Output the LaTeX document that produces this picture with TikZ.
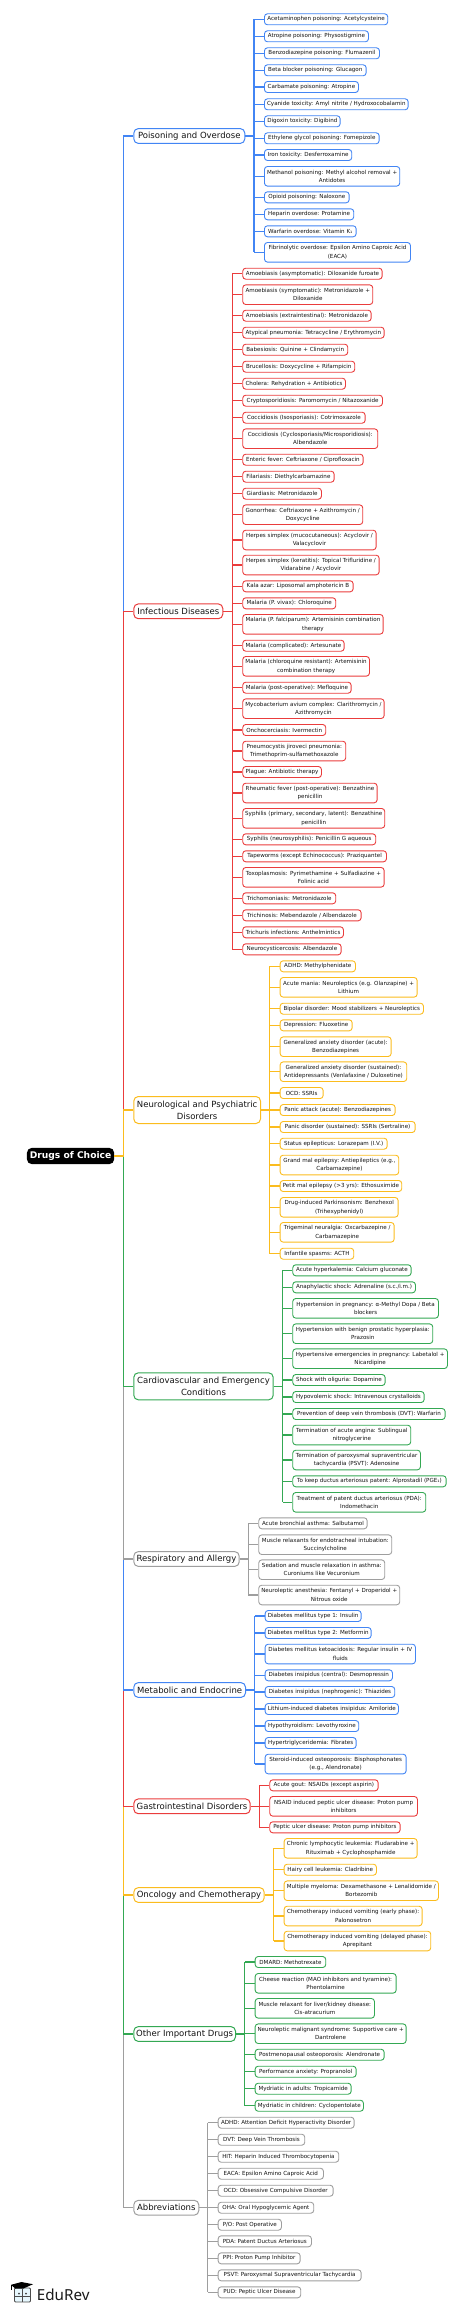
\documentclass[tikz,border=0pt]{standalone}
\usepackage{fontspec}
\setmainfont{DejaVu Sans}
\newfontfamily\logofont{Noto Sans}
\definecolor{cblue}{HTML}{4285F4}
\definecolor{cred}{HTML}{EA3C3C}
\definecolor{cyel}{HTML}{FBBC1E}
\definecolor{cgrn}{HTML}{34A853}
\definecolor{cgry}{HTML}{9E9E9E}
\definecolor{ink}{HTML}{141414}
\tikzset{
  leafbox/.style={draw=#1,line width=0.9pt,rounded corners=3pt,fill=white,inner sep=0pt,anchor=west,
    text=ink,align=center,font=\fontsize{5.57}{8.35}\selectfont},
  onel/.style={minimum height=11pt},
  twol/.style={minimum height=19.6pt},
  catbox/.style={draw=#1,line width=1pt,rounded corners=4.5pt,fill=white,inner sep=0pt,anchor=west,
    text=ink,align=center,minimum height=14.8pt,font=\fontsize{8.5}{12}\selectfont},
  cattwo/.style={minimum height=27pt},
  link/.style={draw=#1,line width=1.2pt},
}
% \lfone{name}{right}{cy}{text}: one line, \lftwo: two lines; \curL, \curC and \curB hold left edge, colour and branch name
\newcommand{\lfone}[4]{\node[leafbox=\curC,onel,minimum width={(#2-\curL)*1pt}] (#1) at (\curL,#3) {#4};
  \draw[link=\curC] (#1.west) -- (#1.west -| \curB);}
\newcommand{\lftwo}[4]{\node[leafbox=\curC,twol,minimum width={(#2-\curL)*1pt}] (#1) at (\curL,#3) {#4};
  \draw[link=\curC] (#1.west) -- (#1.west -| \curB);}
% \catgroup[extra]{cat}{colour}{cat right}{cy}{text}{branch x}{leaf left}
\newcommand{\catgroup}[8][]{\def\curC{#3}\def\curL{#8}\def\curB{#2br}
  \coordinate (#2br) at (#7,0);
  \node[catbox=#3,#1,minimum width={(#4-133.3)*1pt}] (#2) at (133.3,#5) {#6};
  \draw[link=#3] (root.east) -- (root.east -| trunk) -- (#2.west -| trunk) -- (#2.west);
  \draw[link=#3] (#2.east) -- (#2.east -| #2br);}
\newcommand{\spine}[3]{\draw[link=\curC] (#1br |- #2.west) -- (#1br |- #3.west);}
\begin{document}
\begin{tikzpicture}[x=1pt,y=-1pt]
\useasboundingbox (0,0) rectangle (474,2312);
\coordinate (trunk) at (123.3,0);
\node[fill=black,rounded corners=5pt,inner sep=0pt,minimum width=87.3pt,minimum height=16.3pt,anchor=west,
  text=white,font=\fontsize{9.15}{10}\selectfont\bfseries] (root) at (26.7,1156) {Drugs of Choice};

\catgroup{abb}{cgry}{198.3}{2207.7}{Abbreviations}{207.7}{217.7}
\lfone{b1}{353.7}{2122.7}{ADHD: Attention Deficit Hyperactivity Disorder}
\lfone{b2}{304.3}{2139.7}{DVT: Deep Vein Thrombosis}
\lfone{b3}{338.3}{2156.7}{HIT: Heparin Induced Thrombocytopenia}
\lfone{b4}{323}{2173.7}{EACA: Epsilon Amino Caproic Acid}
\lfone{b5}{332.7}{2190.7}{OCD: Obsessive Compulsive Disorder}
\lfone{b6}{313.3}{2207.7}{OHA: Oral Hypoglycemic Agent}
\lfone{b7}{281}{2224.7}{P/O: Post Operative}
\lfone{b8}{311}{2241.3}{PDA: Patent Ductus Arteriosus}
\lfone{b9}{299.7}{2258.3}{PPI: Proton Pump Inhibitor}
\lfone{b10}{360.7}{2275.3}{PSVT: Paroxysmal Supraventricular Tachycardia}
\lfone{b11}{300.3}{2292.3}{PUD: Peptic Ulcer Disease}
\spine{abb}{b1}{b11}

\catgroup{oth}{cgrn}{235}{2034}{Other Important Drugs}{244.7}{254.7}
\lfone{x1}{325.3}{1962}{DMARD: Methotrexate}
\lftwo{x2}{395.7}{1983.3}{Cheese reaction (MAO inhibitors and tyramine):\\Phentolamine}
\lftwo{x3}{374}{2008.3}{Muscle relaxant for liver/kidney disease:\\Cis-atracurium}
\lftwo{x4}{405.7}{2033.7}{Neuroleptic malignant syndrome: Supportive care +\\Dantrolene}
\lfone{x5}{383.7}{2054.7}{Postmenopausal osteoporosis: Alendronate}
\lfone{x6}{355.7}{2071.7}{Performance anxiety: Propranolol}
\lfone{x7}{350.7}{2088.7}{Mydriatic in adults: Tropicamide}
\lfone{x8}{363}{2105.7}{Mydriatic in children: Cyclopentolate}
\spine{oth}{x1}{x8}

\catgroup{onc}{cyel}{263.7}{1895}{Oncology and Chemotherapy}{273.7}{283.7}
\lftwo{o1}{416.7}{1848.3}{Chronic lymphocytic leukemia: Fludarabine +\\Rituximab + Cyclophosphamide}
\lfone{o2}{376}{1869.7}{Hairy cell leukemia: Cladribine}
\lftwo{o3}{438}{1890.7}{Multiple myeloma: Dexamethasone + Lenalidomide /\\Bortezomib}
\lftwo{o4}{421.7}{1916}{Chemotherapy induced vomiting (early phase):\\Palonosetron}
\lftwo{o5}{430.3}{1941}{Chemotherapy induced vomiting (delayed phase):\\Aprepitant}
\spine{onc}{o1}{o5}

\catgroup{gas}{cred}{249.7}{1806.3}{Gastrointestinal Disorders}{259.3}{269.3}
\lfone{g1}{377.7}{1785.3}{Acute gout: NSAIDs (except aspirin)}
\lftwo{g2}{417}{1806.3}{NSAID induced peptic ulcer disease: Proton pump\\inhibitors}
\lfone{g3}{399.7}{1827.3}{Peptic ulcer disease: Proton pump inhibitors}
\spine{gas}{g1}{g3}

\catgroup{met}{cblue}{245}{1690}{Metabolic and Endocrine}{254.7}{264.7}
\lfone{m1}{360.7}{1616}{Diabetes mellitus type 1: Insulin}
\lfone{m2}{370.7}{1633}{Diabetes mellitus type 2: Metformin}
\lftwo{m3}{415}{1654}{Diabetes mellitus ketoacidosis: Regular insulin + IV\\fluids}
\lfone{m4}{392}{1675.3}{Diabetes insipidus (central): Desmopressin}
\lfone{m5}{394.3}{1692}{Diabetes insipidus (nephrogenic): Thiazides}
\lfone{m6}{398}{1709}{Lithium-induced diabetes insipidus: Amiloride}
\lfone{m7}{358.3}{1726}{Hypothyroidism: Levothyroxine}
\lfone{m8}{355.7}{1743}{Hypertriglyceridemia: Fibrates}
\lftwo{m9}{405.7}{1764}{Steroid-induced osteoporosis: Bisphosphonates\\(e.g., Alendronate)}
\spine{met}{m1}{m9}

\catgroup{res}{cgry}{238.7}{1559}{Respiratory and Allergy}{248.3}{258.3}
\lfone{r1}{366.7}{1523.3}{Acute bronchial asthma: Salbutamol}
\lftwo{r2}{391.3}{1544.7}{Muscle relaxants for endotracheal intubation:\\Succinylcholine}
\lftwo{r3}{384.3}{1569.7}{Sedation and muscle relaxation in asthma:\\Curoniums like Vecuronium}
\lftwo{r4}{399.3}{1595}{Neuroleptic anesthesia: Fentanyl + Droperidol +\\Nitrous oxide}
\spine{res}{r1}{r4}

\catgroup[cattwo]{car}{cgrn}{272.7}{1386.3}{Cardiovascular and Emergency\\Conditions}{282.7}{292.3}
\lfone{c1}{410.7}{1270.3}{Acute hyperkalemia: Calcium gluconate}
\lfone{c2}{415}{1287.3}{Anaphylactic shock: Adrenaline (s.c./i.m.)}
\lftwo{c3}{438}{1308.3}{Hypertension in pregnancy: α-Methyl Dopa / Beta\\blockers}
\lftwo{c4}{432.3}{1333.7}{Hypertension with benign prostatic hyperplasia:\\Prazosin}
\lftwo{c5}{447}{1358.7}{Hypertensive emergencies in pregnancy: Labetalol +\\Nicardipine}
\lfone{c6}{384.7}{1380}{Shock with oliguria: Dopamine}
\lfone{c7}{423.7}{1397}{Hypovolemic shock: Intravenous crystalloids}
\lfone{c8}{444.7}{1414}{Prevention of deep vein thrombosis (DVT): Warfarin}
\lftwo{c9}{410.3}{1435}{Termination of acute angina: Sublingual\\nitroglycerine}
\lftwo{c10}{420}{1460}{Termination of paroxysmal supraventricular\\tachycardia (PSVT): Adenosine}
\lfone{c11}{445.7}{1481.3}{To keep ductus arteriosus patent: Alprostadil (PGE₁)}
\lftwo{c12}{425.3}{1502.3}{Treatment of patent ductus arteriosus (PDA):\\Indomethacin}
\spine{car}{c1}{c12}

\catgroup{poi}{cblue}{244.3}{136}{Poisoning and Overdose}{254}{264}
\lfone{p1}{387.3}{19.3}{Acetaminophen poisoning: Acetylcysteine}
\lfone{p2}{368}{36.3}{Atropine poisoning: Physostigmine}
\lfone{p3}{379}{53.3}{Benzodiazepine poisoning: Flumazenil}
\lfone{p4}{365.7}{70.3}{Beta blocker poisoning: Glucagon}
\lfone{p5}{358}{87}{Carbamate poisoning: Atropine}
\lfone{p6}{407.7}{104.3}{Cyanide toxicity: Amyl nitrite / Hydroxocobalamin}
\lfone{p7}{339.7}{121.3}{Digoxin toxicity: Digibind}
\lfone{p8}{378.7}{138.3}{Ethylene glycol poisoning: Fomepizole}
\lfone{p9}{351.3}{155}{Iron toxicity: Desferroxamine}
\lftwo{p10}{399.3}{176.3}{Methanol poisoning: Methyl alcohol removal +\\Antidotes}
\lfone{p11}{348.7}{197.3}{Opioid poisoning: Naloxone}
\lfone{p12}{353.3}{214.3}{Heparin overdose: Protamine}
\lfone{p13}{355.7}{231.3}{Warfarin overdose: Vitamin K₁}
\lftwo{p14}{410}{252.3}{Fibrinolytic overdose: Epsilon Amino Caproic Acid\\(EACA)}
\spine{poi}{p1}{p14}

\catgroup{inf}{cred}{222.3}{611.3}{Infectious Diseases}{232.3}{242.3}
\lfone{a1}{381.7}{273.7}{Amoebiasis (asymptomatic): Diloxanide furoate}
\lftwo{a2}{372.3}{294.7}{Amoebiasis (symptomatic): Metronidazole +\\Diloxanide}
\lfone{a3}{370.7}{315.7}{Amoebiasis (extraintestinal): Metronidazole}
\lfone{a4}{383.7}{332.7}{Atypical pneumonia: Tetracycline / Erythromycin}
\lfone{a5}{347.3}{349.7}{Babesiosis: Quinine + Clindamycin}
\lfone{a6}{354.3}{366.7}{Brucellosis: Doxycycline + Rifampicin}
\lfone{a7}{345}{383.7}{Cholera: Rehydration + Antibiotics}
\lfone{a8}{382}{400.7}{Cryptosporidiosis: Paromomycin / Nitazoxanide}
\lfone{a9}{364.7}{417.7}{Coccidiosis (Isosporiasis): Cotrimoxazole}
\lftwo{a10}{377.3}{438.7}{Coccidiosis (Cyclosporiasis/Microsporidiosis):\\Albendazole}
\lfone{a11}{362.7}{459.7}{Enteric fever: Ceftriaxone / Ciprofloxacin}
\lfone{a12}{333.7}{476.7}{Filariasis: Diethylcarbamazine}
\lfone{a13}{321}{493.7}{Giardiasis: Metronidazole}
\lftwo{a14}{362.3}{514.7}{Gonorrhea: Ceftriaxone + Azithromycin /\\Doxycycline}
\lftwo{a15}{375.7}{540}{Herpes simplex (mucocutaneous): Acyclovir /\\Valacyclovir}
\lftwo{a16}{378.7}{565}{Herpes simplex (keratitis): Topical Trifluridine /\\Vidarabine / Acyclovir}
\lfone{a17}{352.7}{586.3}{Kala azar: Liposomal amphotericin B}
\lfone{a18}{335.3}{603.3}{Malaria (P. vivax): Chloroquine}
\lftwo{a19}{382.7}{624.3}{Malaria (P. falciparum): Artemisinin combination\\therapy}
\lfone{a20}{343.7}{645.7}{Malaria (complicated): Artesunate}
\lftwo{a21}{369}{666.3}{Malaria (chloroquine resistant): Artemisinin\\combination therapy}
\lfone{a22}{350.7}{687.7}{Malaria (post-operative): Mefloquine}
\lftwo{a23}{383.7}{708.7}{Mycobacterium avium complex: Clarithromycin /\\Azithromycin}
\lfone{a24}{325.3}{730}{Onchocerciasis: Ivermectin}
\lftwo{a25}{345.3}{751}{Pneumocystis jiroveci pneumonia:\\Trimethoprim-sulfamethoxazole}
\lfone{a26}{321}{772}{Plague: Antibiotic therapy}
\lftwo{a27}{376.7}{793}{Rheumatic fever (post-operative): Benzathine\\penicillin}
\lftwo{a28}{384.3}{818.3}{Syphilis (primary, secondary, latent): Benzathine\\penicillin}
\lfone{a29}{375.3}{839.3}{Syphilis (neurosyphilis): Penicillin G aqueous}
\lfone{a30}{386}{856.3}{Tapeworms (except Echinococcus): Praziquantel}
\lftwo{a31}{383.7}{877.3}{Toxoplasmosis: Pyrimethamine + Sulfadiazine +\\Folinic acid}
\lfone{a32}{335.3}{898.3}{Trichomoniasis: Metronidazole}
\lfone{a33}{360.7}{915.3}{Trichinosis: Mebendazole / Albendazole}
\lfone{a34}{343}{932.3}{Trichuris infections: Anthelmintics}
\lfone{a35}{340.7}{949.3}{Neurocysticercosis: Albendazole}
\spine{inf}{a1}{a35}

\catgroup[cattwo]{neu}{cyel}{260}{1110}{Neurological and Psychiatric\\Disorders}{269.7}{279.7}
\lfone{n1}{355}{966.3}{ADHD: Methylphenidate}
\lftwo{n2}{416.7}{987.3}{Acute mania: Neuroleptics (e.g. Olanzapine) +\\Lithium}
\lfone{n3}{423}{1008.7}{Bipolar disorder: Mood stabilizers + Neuroleptics}
\lfone{n4}{351.7}{1025.3}{Depression: Fluoxetine}
\lftwo{n5}{390.7}{1046.7}{Generalized anxiety disorder (acute):\\Benzodiazepines}
\lftwo{n6}{406.3}{1071.7}{Generalized anxiety disorder (sustained):\\Antidepressants (Venlafaxine / Duloxetine)}
\lfone{n7}{322.7}{1093}{OCD: SSRIs}
\lfone{n8}{394.7}{1110}{Panic attack (acute): Benzodiazepines}
\lfone{n9}{414.7}{1127}{Panic disorder (sustained): SSRIs (Sertraline)}
\lfone{n10}{386.7}{1143.7}{Status epilepticus: Lorazepam (I.V.)}
\lftwo{n11}{398.3}{1165}{Grand mal epilepsy: Antiepileptics (e.g.,\\Carbamazepine)}
\lfone{n12}{401.3}{1186}{Petit mal epilepsy (>3 yrs): Ethosuximide}
\lftwo{n13}{397.7}{1207.3}{Drug-induced Parkinsonism: Benzhexol\\(Trihexyphenidyl)}
\lftwo{n14}{393.7}{1232.3}{Trigeminal neuralgia: Oxcarbazepine /\\Carbamazepine}
\lfone{n15}{353.3}{1253.7}{Infantile spasms: ACTH}
\spine{neu}{n1}{n15}

% logo
\draw[line width=0.9pt,draw=black!70,fill=cyan!10,rounded corners=1pt] (14.5,2288) rectangle (30.5,2302);
\draw[line width=0.7pt,draw=black!70] (22.5,2289) -- (22.5,2302) (14.5,2296.5) -- (30.5,2296.5);
\fill[black!75] (19,2293.5) circle (1) (26,2293.5) circle (1);
\fill[black] (11,2284.8) -- (21.5,2282) -- (33,2284.2) -- (23,2288.7) -- (15.5,2288.7) -- cycle;
\draw[black,line width=0.6pt] (11.5,2285) -- (11.5,2290);
\node[anchor=base west,inner sep=0pt,text=black!90,font=\fontsize{15.2}{16}\logofont\selectfont] (logo) at (36.7,2300) {EduRev};
\end{tikzpicture}
\end{document}
